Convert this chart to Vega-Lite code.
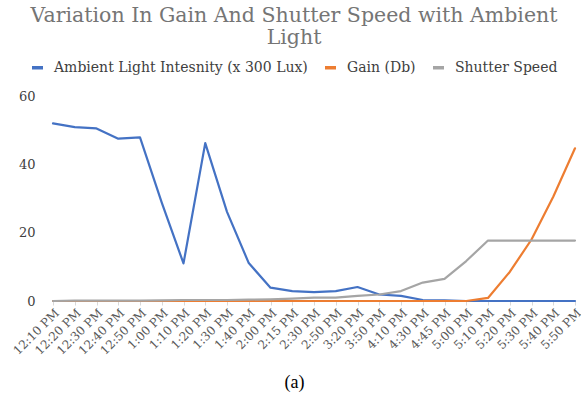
{
  "$schema": "https://vega.github.io/schema/vega-lite/v6.json",
  "width": 522,
  "height": 205,
  "autosize": "none",
  "padding": {"left": 53, "top": 96, "right": 6, "bottom": 107},
  "background": "white",
  "title": {
    "text": ["Variation In Gain And Shutter Speed with Ambient", "Light"],
    "font": "DejaVu Serif",
    "fontSize": 20.5,
    "fontWeight": "normal",
    "color": "#757575",
    "anchor": "middle",
    "dx": -20,
    "lineHeight": 22,
    "offset": 12
  },
  "config": {
    "view": {"stroke": null},
    "font": "DejaVu Serif",
    "legend": {"labelFont": "DejaVu Serif"}
  },
  "datasets": {
    "d": [
      {"t": "12:10 PM", "s": "Ambient Light Intesnity (x 300 Lux)", "v": 52.0},
      {"t": "12:20 PM", "s": "Ambient Light Intesnity (x 300 Lux)", "v": 50.9},
      {"t": "12:30 PM", "s": "Ambient Light Intesnity (x 300 Lux)", "v": 50.5},
      {"t": "12:40 PM", "s": "Ambient Light Intesnity (x 300 Lux)", "v": 47.5},
      {"t": "12:50 PM", "s": "Ambient Light Intesnity (x 300 Lux)", "v": 47.9},
      {"t": "1:00 PM", "s": "Ambient Light Intesnity (x 300 Lux)", "v": 28.8},
      {"t": "1:10 PM", "s": "Ambient Light Intesnity (x 300 Lux)", "v": 11.0},
      {"t": "1:20 PM", "s": "Ambient Light Intesnity (x 300 Lux)", "v": 46.2},
      {"t": "1:30 PM", "s": "Ambient Light Intesnity (x 300 Lux)", "v": 26.1},
      {"t": "1:40 PM", "s": "Ambient Light Intesnity (x 300 Lux)", "v": 11.1},
      {"t": "2:00 PM", "s": "Ambient Light Intesnity (x 300 Lux)", "v": 3.9},
      {"t": "2:15 PM", "s": "Ambient Light Intesnity (x 300 Lux)", "v": 2.9},
      {"t": "2:30 PM", "s": "Ambient Light Intesnity (x 300 Lux)", "v": 2.6},
      {"t": "2:50 PM", "s": "Ambient Light Intesnity (x 300 Lux)", "v": 2.9},
      {"t": "3:20 PM", "s": "Ambient Light Intesnity (x 300 Lux)", "v": 4.1},
      {"t": "3:50 PM", "s": "Ambient Light Intesnity (x 300 Lux)", "v": 1.9},
      {"t": "4:10 PM", "s": "Ambient Light Intesnity (x 300 Lux)", "v": 1.5},
      {"t": "4:30 PM", "s": "Ambient Light Intesnity (x 300 Lux)", "v": 0.3},
      {"t": "4:45 PM", "s": "Ambient Light Intesnity (x 300 Lux)", "v": 0.2},
      {"t": "5:00 PM", "s": "Ambient Light Intesnity (x 300 Lux)", "v": 0.0},
      {"t": "5:10 PM", "s": "Ambient Light Intesnity (x 300 Lux)", "v": 0.0},
      {"t": "5:20 PM", "s": "Ambient Light Intesnity (x 300 Lux)", "v": 0.0},
      {"t": "5:30 PM", "s": "Ambient Light Intesnity (x 300 Lux)", "v": 0.0},
      {"t": "5:40 PM", "s": "Ambient Light Intesnity (x 300 Lux)", "v": 0.0},
      {"t": "5:50 PM", "s": "Ambient Light Intesnity (x 300 Lux)", "v": 0.0},
      {"t": "12:10 PM", "s": "Gain (Db)", "v": 0},
      {"t": "12:20 PM", "s": "Gain (Db)", "v": 0},
      {"t": "12:30 PM", "s": "Gain (Db)", "v": 0},
      {"t": "12:40 PM", "s": "Gain (Db)", "v": 0},
      {"t": "12:50 PM", "s": "Gain (Db)", "v": 0},
      {"t": "1:00 PM", "s": "Gain (Db)", "v": 0},
      {"t": "1:10 PM", "s": "Gain (Db)", "v": 0},
      {"t": "1:20 PM", "s": "Gain (Db)", "v": 0},
      {"t": "1:30 PM", "s": "Gain (Db)", "v": 0},
      {"t": "1:40 PM", "s": "Gain (Db)", "v": 0},
      {"t": "2:00 PM", "s": "Gain (Db)", "v": 0},
      {"t": "2:15 PM", "s": "Gain (Db)", "v": 0},
      {"t": "2:30 PM", "s": "Gain (Db)", "v": 0},
      {"t": "2:50 PM", "s": "Gain (Db)", "v": 0},
      {"t": "3:20 PM", "s": "Gain (Db)", "v": 0},
      {"t": "3:50 PM", "s": "Gain (Db)", "v": 0},
      {"t": "4:10 PM", "s": "Gain (Db)", "v": 0},
      {"t": "4:30 PM", "s": "Gain (Db)", "v": 0},
      {"t": "4:45 PM", "s": "Gain (Db)", "v": 0},
      {"t": "5:00 PM", "s": "Gain (Db)", "v": 0},
      {"t": "5:10 PM", "s": "Gain (Db)", "v": 0.9},
      {"t": "5:20 PM", "s": "Gain (Db)", "v": 8.5},
      {"t": "5:30 PM", "s": "Gain (Db)", "v": 18.0},
      {"t": "5:40 PM", "s": "Gain (Db)", "v": 30.5},
      {"t": "5:50 PM", "s": "Gain (Db)", "v": 44.7},
      {"t": "12:10 PM", "s": "Shutter Speed", "v": 0.0},
      {"t": "12:20 PM", "s": "Shutter Speed", "v": 0.1},
      {"t": "12:30 PM", "s": "Shutter Speed", "v": 0.1},
      {"t": "12:40 PM", "s": "Shutter Speed", "v": 0.1},
      {"t": "12:50 PM", "s": "Shutter Speed", "v": 0.1},
      {"t": "1:00 PM", "s": "Shutter Speed", "v": 0.2},
      {"t": "1:10 PM", "s": "Shutter Speed", "v": 0.3},
      {"t": "1:20 PM", "s": "Shutter Speed", "v": 0.3},
      {"t": "1:30 PM", "s": "Shutter Speed", "v": 0.3},
      {"t": "1:40 PM", "s": "Shutter Speed", "v": 0.4},
      {"t": "2:00 PM", "s": "Shutter Speed", "v": 0.5},
      {"t": "2:15 PM", "s": "Shutter Speed", "v": 0.7},
      {"t": "2:30 PM", "s": "Shutter Speed", "v": 1.0},
      {"t": "2:50 PM", "s": "Shutter Speed", "v": 1.0},
      {"t": "3:20 PM", "s": "Shutter Speed", "v": 1.5},
      {"t": "3:50 PM", "s": "Shutter Speed", "v": 1.9},
      {"t": "4:10 PM", "s": "Shutter Speed", "v": 2.9},
      {"t": "4:30 PM", "s": "Shutter Speed", "v": 5.4},
      {"t": "4:45 PM", "s": "Shutter Speed", "v": 6.5},
      {"t": "5:00 PM", "s": "Shutter Speed", "v": 11.7},
      {"t": "5:10 PM", "s": "Shutter Speed", "v": 17.7},
      {"t": "5:20 PM", "s": "Shutter Speed", "v": 17.7},
      {"t": "5:30 PM", "s": "Shutter Speed", "v": 17.7},
      {"t": "5:40 PM", "s": "Shutter Speed", "v": 17.7},
      {"t": "5:50 PM", "s": "Shutter Speed", "v": 17.7}
    ]
  },
  "data": {"name": "d"},
  "mark": {"type": "line", "strokeWidth": 2.2, "strokeCap": "round", "strokeJoin": "round"},
  "encoding": {
    "x": {
      "field": "t",
      "type": "ordinal",
      "sort": null,
      "scale": {"type": "point", "padding": 0},
      "axis": {
        "title": "(a)",
        "titleFont": "Liberation Serif",
        "titleFontSize": 18,
        "titleFontWeight": "normal",
        "titleColor": "#000000",
        "titleX": 241,
        "titleY": 81,
        "titleAlign": "center",
        "titleBaseline": "middle",
        "labelAngle": -45,
        "labelFont": "DejaVu Serif",
        "labelFontSize": 12,
        "labelColor": "#595959",
        "labelPadding": 2,
        "domainColor": "#D9D9D9",
        "tickColor": "#D9D9D9",
        "tickSize": 4,
        "grid": false
      }
    },
    "y": {
      "field": "v",
      "type": "quantitative",
      "scale": {"domain": [0, 60], "nice": false},
      "axis": {
        "title": null,
        "values": [0, 20, 40, 60],
        "domain": false,
        "ticks": false,
        "grid": false,
        "labelFont": "DejaVu Serif",
        "labelFontSize": 13,
        "labelColor": "#404040",
        "labelPadding": 18
      }
    },
    "color": {
      "field": "s",
      "type": "nominal",
      "sort": null,
      "scale": {
        "domain": ["Ambient Light Intesnity (x 300 Lux)", "Gain (Db)", "Shutter Speed"],
        "range": ["#4472C4", "#ED7D31", "#A5A5A5"]
      },
      "legend": {
        "title": null,
        "orient": "none",
        "direction": "horizontal",
        "legendX": -23,
        "legendY": -36,
        "symbolType": "stroke",
        "symbolStrokeWidth": 3.5,
        "symbolSize": 121,
        "labelFont": "DejaVu Serif",
        "labelFontSize": 14,
        "labelColor": "#404040",
        "labelOffset": 9,
        "labelLimit": 400,
        "columnPadding": 10
      }
    }
  }
}
